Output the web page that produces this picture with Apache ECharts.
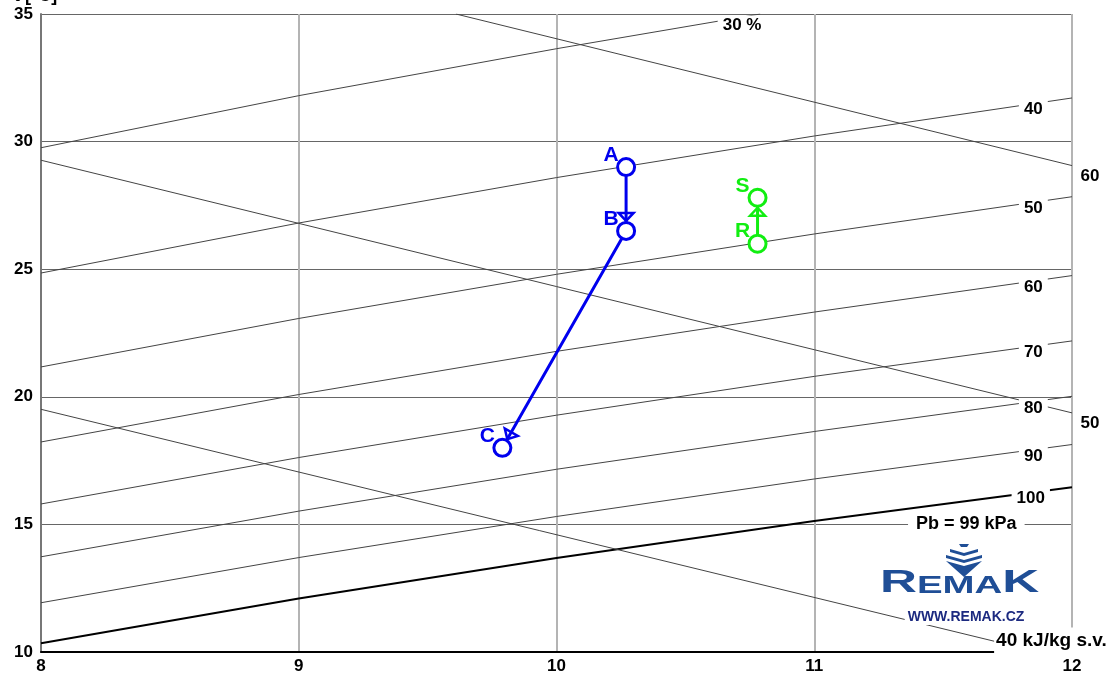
<!DOCTYPE html>
<html>
<head>
<meta charset="utf-8">
<script src="https://cdn.jsdelivr.net/npm/echarts@6/dist/echarts.min.js"></script>
<style>
  html, body { margin: 0; padding: 0; background: #fff; }
  #chart { width: 1108px; height: 681px; }
</style>
</head>
<body>
<div id="chart"></div>
<script>
// Axis ticks: x = moisture content [g/kg s.v.], t = temperature [°C]
const xTicks = [8, 9, 10, 11, 12];
const tTicks = [10, 15, 20, 25, 30, 35];

// Relative humidity curves at Pb = 99 kPa, points [x, t]
const rh30 = [[8, 29.76], [9, 31.80], [10, 33.64], [10.79, 35]];
const rh40 = [[8, 24.85], [9, 26.81], [10, 28.59], [11, 30.22], [12, 31.71]];
const rh50 = [[8, 21.17], [9, 23.07], [10, 24.80], [11, 26.38], [12, 27.84]];
const rh60 = [[8, 18.23], [9, 20.09], [10, 21.78], [11, 23.32], [12, 24.75]];
const rh70 = [[8, 15.80], [9, 17.62], [10, 19.28], [11, 20.80], [12, 22.19]];
const rh80 = [[8, 13.73], [9, 15.52], [10, 17.16], [11, 18.64], [12, 20.02]];
const rh90 = [[8, 11.93], [9, 13.70], [10, 15.31], [11, 16.78], [12, 18.13]];
const rh100 = [[8, 10.34], [9, 12.10], [10, 13.68], [11, 15.13], [12, 16.46]];

// Enthalpy lines [x, t]
const h60 = [[9.61, 35], [12, 29.06]];
const h50 = [[8, 29.27], [12, 19.37]];
const h40 = [[8, 19.51], [11.87, 10]];

// Curve labels and their anchors
const rhLabels = ['30 %', '40', '50', '60', '70', '80', '90', '100'];
const rhLabelX = [10.72, 11.85, 11.85, 11.85, 11.85, 11.85, 11.85, 11.84];
const rhLabelT = [34.57, 31.28, 27.40, 24.30, 21.76, 19.56, 17.68, 16.03];
const hLabels = ['60', '50', '40 kJ/kg s.v.'];
const hLabelX = [12.07, 12.07, 11.92];
const hLabelT = [28.65, 18.97, 10.43];
const pressureLabel = 'Pb = 99 kPa';
const pressureAnchor = [11.59, 15.0];

// Air states
const pointNames = ['A', 'B', 'C', 'R', 'S'];
const pointX = [10.27, 10.27, 9.79, 10.78, 10.78];
const pointT = [29.0, 26.5, 18.0, 26.0, 27.8];
const blueProcess = ['A', 'B', 'C'];
const greenProcess = ['R', 'S'];

const BLUE = '#0000ee';
const GREEN = '#11ee11';
const FONT = 'Liberation Sans';

function state(name) {
  const i = pointNames.indexOf(name);
  return [pointX[i], pointT[i]];
}

// label text style for curve captions, with a white box that breaks the line beneath
function caption(text, size, padding) {
  return {
    show: true, position: 'inside', formatter: text,
    color: '#000', opacity: 1, fontFamily: FONT, fontWeight: 'bold', fontSize: size,
    backgroundColor: '#fff', padding: padding,
    textBorderWidth: 0, textBorderColor: 'transparent'
  };
}

const rhCurves = [rh30, rh40, rh50, rh60, rh70, rh80, rh90, rh100];
const hLines = [h60, h50, h40];

const series = [];
rhCurves.forEach((pts, i) => {
  const sat = i === rhCurves.length - 1;
  series.push({
    type: 'line', data: pts, showSymbol: false, silent: true, z: 2,
    lineStyle: { color: sat ? '#000' : '#444', width: sat ? 2 : 1 }
  });
});
hLines.forEach(pts => {
  series.push({
    type: 'line', data: pts, showSymbol: false, silent: true, z: 2,
    lineStyle: { color: '#444', width: 1 }
  });
});

const annotations = [];
rhLabels.forEach((txt, i) => annotations.push({
  value: [rhLabelX[i], rhLabelT[i]], label: caption(txt, 17, [1, 5, 1, 5])
}));
hLabels.forEach((txt, i) => annotations.push({
  value: [hLabelX[i], hLabelT[i]],
  label: i === 2 ? caption(txt, 19, [3, 2, 5, 2]) : caption(txt, 17, [1, 2, 1, 2])
}));
annotations.push({ value: pressureAnchor, label: caption(pressureLabel, 18, [1, 8, 1, 8]) });
series.push({
  type: 'scatter', data: annotations, symbolSize: 1, clip: false, silent: true, z: 3,
  itemStyle: { color: '#fff', opacity: 0 },
  label: caption('', 17, [1, 5, 1, 5])
});

// Process lines
function processSeries(names, color) {
  series.push({
    type: 'line', data: names.map(state), showSymbol: false, silent: true, z: 5,
    lineStyle: { color: color, width: 3 }
  });
  // arrow heads near the end state of each step
  const segs = [];
  for (let i = 0; i < names.length - 1; i++) {
    segs.push([...state(names[i]), ...state(names[i + 1])]);
  }
  series.push({
    type: 'custom', data: segs, silent: true, z: 6,
    renderItem: function (params, api) {
      const p1 = api.coord([api.value(0), api.value(1)]);
      const p2 = api.coord([api.value(2), api.value(3)]);
      const dx = p2[0] - p1[0], dy = p2[1] - p1[1];
      const len = Math.sqrt(dx * dx + dy * dy);
      const ux = dx / len, uy = dy / len;
      const tip = [p2[0] - ux * 10, p2[1] - uy * 10];
      const base = [tip[0] - ux * 8, tip[1] - uy * 8];
      const hw = 7.5;
      return {
        type: 'polygon',
        shape: { points: [tip, [base[0] - uy * hw, base[1] + ux * hw], [base[0] + uy * hw, base[1] - ux * hw]] },
        style: { fill: 'none', stroke: color, lineWidth: 2.5 }
      };
    }
  });
  series.push({
    type: 'scatter', silent: true, z: 7,
    data: names.map(n => ({ value: state(n), name: n })),
    symbol: 'circle', symbolSize: 17,
    itemStyle: { color: '#fff', borderColor: color, borderWidth: 3, opacity: 1 },
    label: {
      show: true, position: 'inside', offset: [-15, -12], formatter: '{b}',
      color: color, opacity: 1, textBorderWidth: 0, textBorderColor: 'transparent',
      fontFamily: FONT, fontWeight: 'bold', fontSize: 21
    }
  });
}
processSeries(blueProcess, BLUE);
processSeries(greenProcess, GREEN);

const LOGO = '#1f4e96';
const option = {
  animation: false,
  backgroundColor: '#fff',
  grid: { left: 41, right: 36, top: 14, bottom: 29 },
  xAxis: {
    type: 'value', min: xTicks[0], max: xTicks[xTicks.length - 1], interval: 1,
    axisLine: { show: true, onZero: false, lineStyle: { color: '#000', width: 2 } },
    axisTick: { show: false },
    axisLabel: { color: '#000', fontFamily: FONT, fontWeight: 'bold', fontSize: 17, margin: 6 },
    splitLine: { show: true, lineStyle: { color: '#b4b4b4', width: 2 } }
  },
  yAxis: {
    type: 'value', min: tTicks[0], max: tTicks[tTicks.length - 1], interval: 5,
    axisLine: { show: true, onZero: false, lineStyle: { color: '#777', width: 2 } },
    axisTick: { show: false },
    axisLabel: { color: '#000', fontFamily: FONT, fontWeight: 'bold', fontSize: 17, margin: 8 },
    splitLine: { show: true, lineStyle: { color: '#666', width: 1 } }
  },
  graphic: [
    { type: 'text', x: 14, y: -13, z: 100,
      style: { text: 't [°C]', fill: '#000', font: 'bold 18px "Liberation Sans"' } },
    // REMAK logo mark
    { type: 'polygon', z: 100, shape: { points: [[959, 544], [969, 544], [967, 547], [961, 547]] }, style: { fill: LOGO } },
    { type: 'polygon', z: 100, shape: { points: [[950, 549], [964, 553], [978, 549], [978, 552], [964, 556], [950, 552]] }, style: { fill: LOGO } },
    { type: 'polygon', z: 100, shape: { points: [[946, 555], [964, 560], [982, 555], [982, 558], [964, 563], [946, 558]] }, style: { fill: LOGO } },
    { type: 'polygon', z: 100, shape: { points: [[946, 561], [964, 566], [982, 561], [964, 577]] }, style: { fill: LOGO } },
    { type: 'text', x: 880, y: 567, scaleX: 1.6, z: 100,
      style: {
        text: '{b|R}{s|EMA}{b|K}', fill: LOGO,
        rich: {
          b: { fontSize: 32, lineHeight: 32, fontFamily: FONT, fontWeight: 'bold', fill: LOGO, verticalAlign: 'bottom' },
          s: { fontSize: 24, lineHeight: 24, fontFamily: FONT, fontWeight: 'bold', fill: LOGO, verticalAlign: 'bottom', padding: [0, 0, 1, 0] }
        }
      } },
    { type: 'text', x: 966, y: 617, z: 100,
      style: {
        text: 'WWW.REMAK.CZ', fill: '#1c2a80', font: 'bold 14px "Liberation Sans"',
        align: 'center', verticalAlign: 'middle', backgroundColor: '#fff', padding: [1, 3, 1, 3]
      } }
  ],
  series: series
};

const chart = echarts.init(document.getElementById('chart'), null, { renderer: 'canvas' });
chart.setOption(option);
</script>
</body>
</html>
